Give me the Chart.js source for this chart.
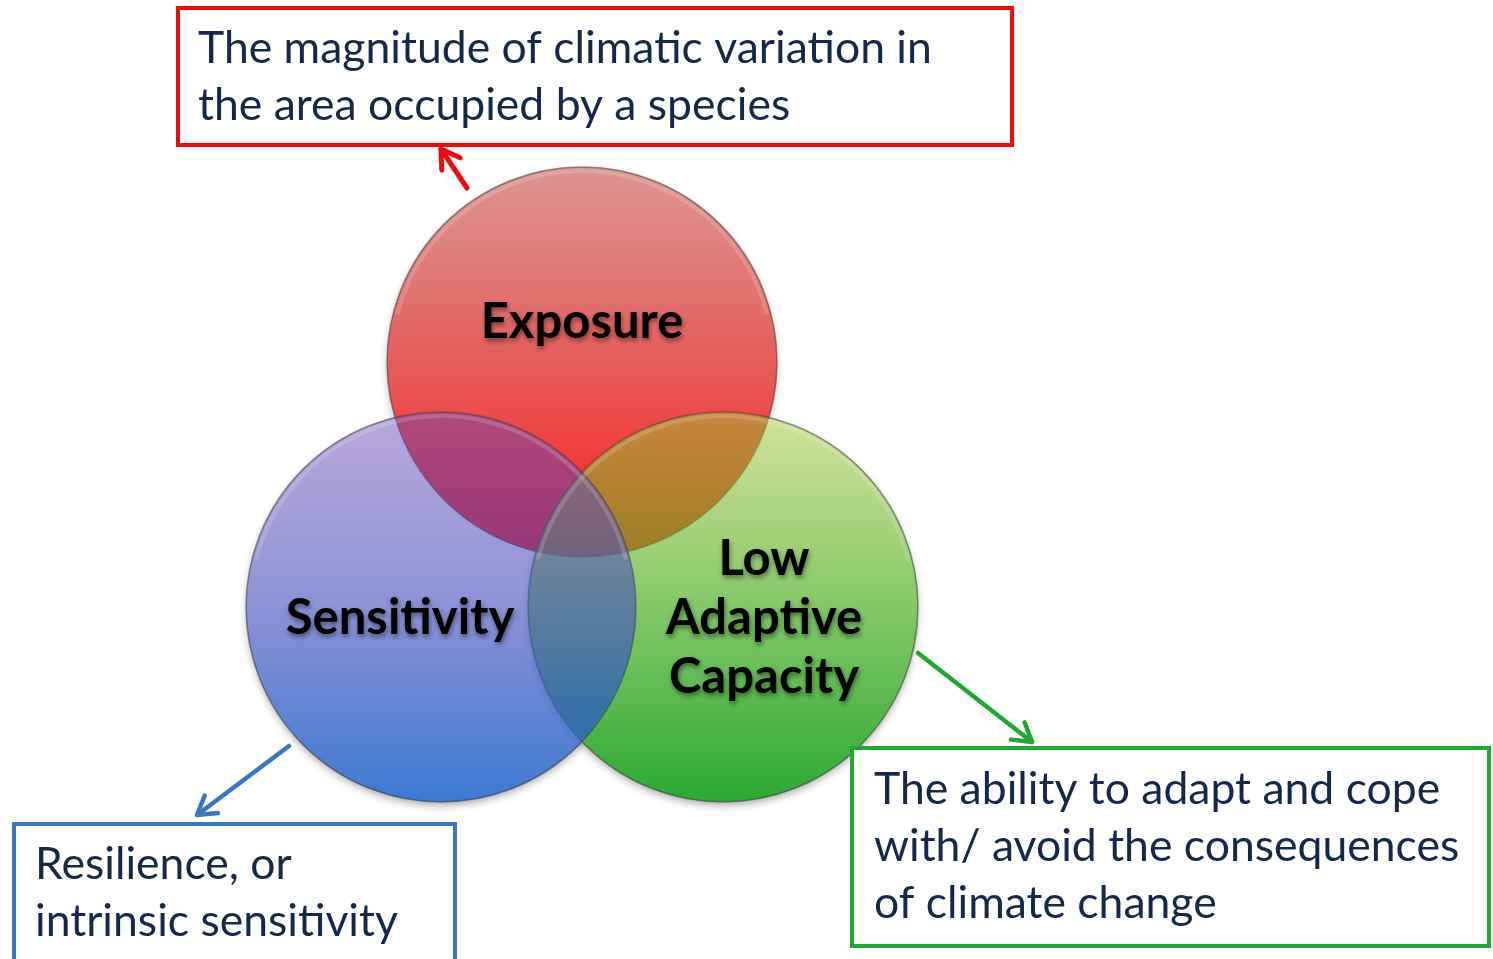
<!DOCTYPE html>
<html>
<head>
<meta charset="utf-8">
<script src="https://cdn.jsdelivr.net/npm/chart.js@4.4.1/dist/chart.umd.min.js"></script>
<style>
  html, body { margin: 0; padding: 0; background: #ffffff; }
  #c { display: block; }
</style>
</head>
<body>
<canvas id="c" width="1493" height="959"></canvas>
<script>
// ---------- DATA ----------
const categories = ['Exposure', 'Sensitivity', 'Low Adaptive Capacity'];
const circleLabels = [['Exposure'], ['Sensitivity'], ['Low', 'Adaptive', 'Capacity']];
const centerX = [582, 441, 723];
const centerY = [362, 607, 607];
const radius = [195, 195, 195];
const calloutTexts = [
  ['The magnitude of climatic variation in', 'the area occupied by a species'],
  ['Resilience, or', 'intrinsic sensitivity'],
  ['The ability to adapt and cope', 'with/ avoid the consequences', 'of climate change']
];

// ---------- LAYOUT / STYLE ----------
const W = 1493, H = 959;
const labelOffset = [[-40], [11], [-48, 11, 70]];
const labelShiftX = [0, -41, 41];
const boxes = [
  { x0: 178, y0: 8,   x1: 1012, y1: 145, color: '#f20a0a', textX: 198, base: [63, 120] },
  { x0: 14,  y0: 824, x1: 455,  y1: 975, color: '#3a76c4', textX: 35,  base: [879, 936] },
  { x0: 852, y0: 748, x1: 1489, y1: 946, color: '#22a634', textX: 874, base: [804, 861, 918] }
];
const arrows = [
  { from: [467, 188], to: [441, 149], color: '#f20a0a', w: 5 },
  { from: [289, 746], to: [197, 815], color: '#3a76c4', w: 4.5 },
  { from: [918, 653], to: [1032, 742], color: '#22a634', w: 4.5 }
];
// gradient stops: [offset, r, g, b, a]
const gradients = [
  [[0, 195, 70, 65, 0.58], [0.5, 222, 48, 46, 0.78], [0.8, 244, 30, 30, 0.9], [1, 250, 22, 22, 0.97]],
  [[0, 105, 70, 178, 0.47], [0.5, 70, 80, 190, 0.62], [1, 26, 100, 202, 0.86]],
  [[0, 162, 195, 52, 0.5], [0.5, 78, 175, 40, 0.7], [1, 18, 160, 28, 0.9]]
];
const drawOrder = [3, 1, 2]; // red bottom, green middle, blue top

function makeGradient(context) {
  const chart = context.chart;
  const i = context.datasetIndex;
  if (!chart.chartArea) return 'rgba(0,0,0,0)';
  const cy = chart.scales.y.getPixelForValue(centerY[i]);
  const r = radius[i];
  const g = chart.ctx.createLinearGradient(0, cy - r, 0, cy + r);
  gradients[i].forEach(s => g.addColorStop(s[0], `rgba(${s[1]},${s[2]},${s[3]},${s[4]})`));
  return g;
}

const datasets = categories.map((name, i) => ({
  label: name,
  data: [{ x: centerX[i], y: centerY[i], r: radius[i] }],
  backgroundColor: makeGradient,
  borderColor: 'rgba(70,70,70,0.55)',
  borderWidth: 1.5,
  hoverRadius: 0,
  hoverBorderWidth: 1.5,
  order: drawOrder[i]
}));

const vennPlugin = {
  id: 'venn',
  beforeDatasetsDraw(chart) {
    const ctx = chart.ctx;
    ctx.save();
    chart.data.datasets.forEach((ds, i) => {
      const el = chart.getDatasetMeta(i).data[0];
      ctx.beginPath();
      ctx.arc(el.x, el.y, radius[i] - 1, 0, Math.PI * 2);
      ctx.shadowColor = 'rgba(0,0,0,0.35)';
      ctx.shadowBlur = 9;
      ctx.shadowOffsetY = 4;
      ctx.fillStyle = '#ffffff';
      ctx.fill();
    });
    ctx.restore();
  },
  afterDatasetsDraw(chart) {
    const ctx = chart.ctx;
    const xs = chart.scales.x, ys = chart.scales.y;
    ctx.save();
    chart.data.datasets.forEach((ds, i) => {
      const el = chart.getDatasetMeta(i).data[0];
      ctx.beginPath();
      ctx.arc(el.x, el.y, radius[i] - 4, Math.PI * 1.08, Math.PI * 1.92);
      ctx.strokeStyle = 'rgba(255,255,255,0.16)';
      ctx.lineWidth = 4;
      ctx.stroke();
    });
    ctx.restore();

    ctx.save();
    ctx.font = 'bold 49px Lato, "Open Sans", sans-serif';
    ctx.textAlign = 'center';
    ctx.textBaseline = 'middle';
    ctx.fillStyle = '#000000';
    ctx.shadowColor = 'rgba(0,0,0,0.45)';
    ctx.shadowBlur = 5;
    ctx.shadowOffsetX = 1;
    ctx.shadowOffsetY = 3;
    chart.data.datasets.forEach((ds, i) => {
      const el = chart.getDatasetMeta(i).data[0];
      circleLabels[i].forEach((line, j) => {
        ctx.fillText(line, el.x + labelShiftX[i], el.y + labelOffset[i][j]);
      });
    });
    ctx.restore();

    ctx.save();
    boxes.forEach((b, i) => {
      const x0 = xs.getPixelForValue(b.x0), x1 = xs.getPixelForValue(b.x1);
      const y0 = ys.getPixelForValue(b.y0), y1 = ys.getPixelForValue(b.y1);
      ctx.fillStyle = '#ffffff';
      ctx.fillRect(x0, y0, x1 - x0, y1 - y0);
      ctx.strokeStyle = b.color;
      ctx.lineWidth = 4;
      ctx.strokeRect(x0, y0, x1 - x0, y1 - y0);
      ctx.fillStyle = '#14294a';
      ctx.font = '44.5px Lato, "Open Sans", sans-serif';
      ctx.textAlign = 'left';
      ctx.textBaseline = 'alphabetic';
      calloutTexts[i].forEach((line, j) => {
        ctx.fillText(line, xs.getPixelForValue(b.textX), ys.getPixelForValue(b.base[j]));
      });
    });
    ctx.restore();

    ctx.save();
    arrows.forEach(a => {
      const fx = xs.getPixelForValue(a.from[0]), fy = ys.getPixelForValue(a.from[1]);
      const tx = xs.getPixelForValue(a.to[0]), ty = ys.getPixelForValue(a.to[1]);
      const ang = Math.atan2(ty - fy, tx - fx);
      ctx.strokeStyle = a.color;
      ctx.lineWidth = a.w;
      ctx.lineCap = 'round';
      ctx.lineJoin = 'round';
      ctx.beginPath();
      ctx.moveTo(fx, fy);
      ctx.lineTo(tx, ty);
      ctx.stroke();
      const L = 21, spread = 0.55;
      ctx.beginPath();
      ctx.moveTo(tx - L * Math.cos(ang - spread), ty - L * Math.sin(ang - spread));
      ctx.lineTo(tx, ty);
      ctx.lineTo(tx - L * Math.cos(ang + spread), ty - L * Math.sin(ang + spread));
      ctx.stroke();
    });
    ctx.restore();
  }
};

new Chart(document.getElementById('c'), {
  type: 'bubble',
  data: { datasets },
  options: {
    responsive: false,
    animation: false,
    events: [],
    devicePixelRatio: 1,
    layout: { padding: 0, autoPadding: false },
    plugins: { legend: { display: false }, tooltip: { enabled: false } },
    scales: {
      x: { type: 'linear', min: 0, max: W, display: false, offset: false },
      y: { type: 'linear', min: 0, max: H, reverse: true, display: false, offset: false }
    }
  },
  plugins: [vennPlugin]
});
</script>
</body>
</html>
